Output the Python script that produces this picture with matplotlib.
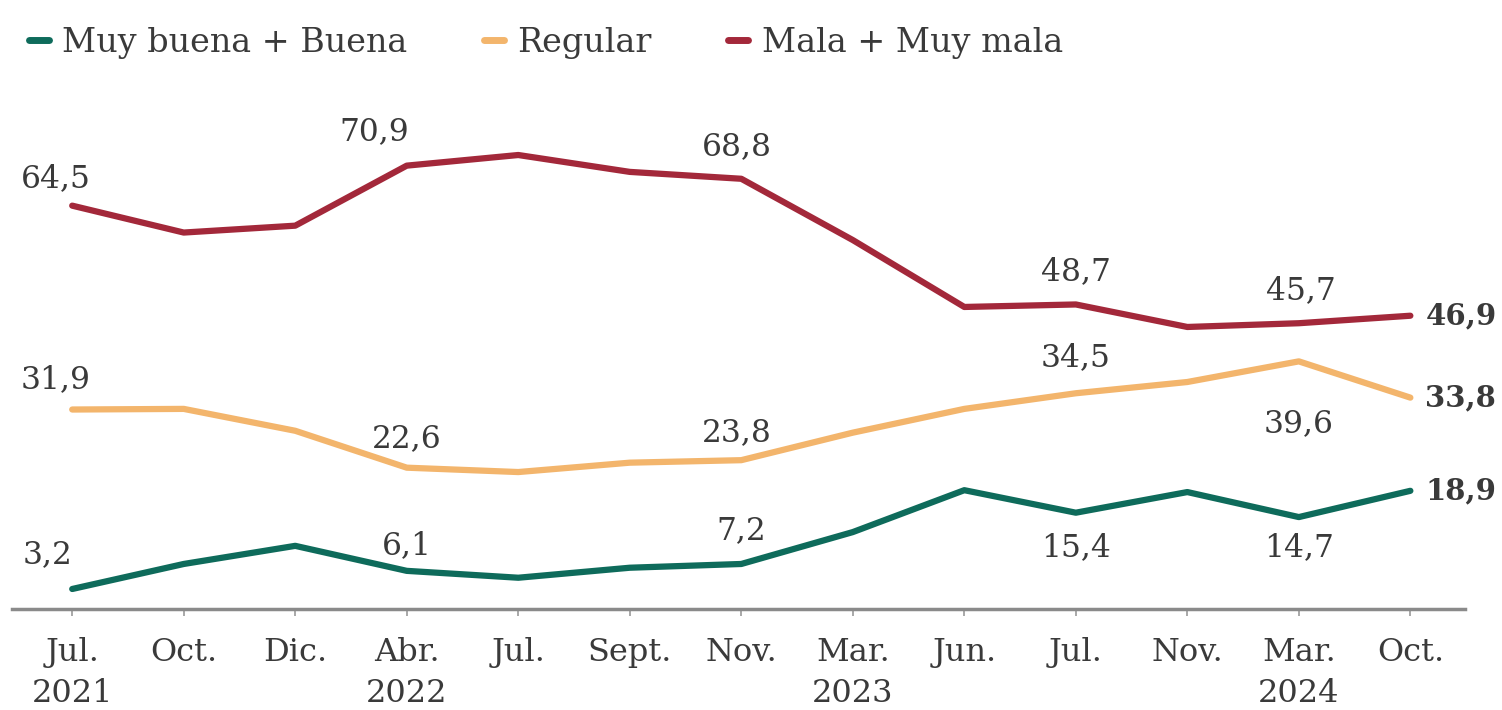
import matplotlib.pyplot as plt
from matplotlib.lines import Line2D

# Datos (porcentajes)
meses = ["Jul.\n2021", "Oct.", "Dic.", "Abr.\n2022", "Jul.", "Sept.", "Nov.",
         "Mar.\n2023", "Jun.", "Jul.", "Nov.", "Mar.\n2024", "Oct."]
buena = [3.2, 7.2, 10.1, 6.1, 5.0, 6.6, 7.2, 12.3, 19.0, 15.4, 18.7, 14.7, 18.9]
regular = [31.9, 32.0, 28.5, 22.6, 21.9, 23.4, 23.8, 28.2, 32.0, 34.5, 36.3, 39.6, 33.8]
mala = [64.5, 60.2, 61.3, 70.9, 72.6, 69.9, 68.8, 59.0, 48.3, 48.7, 45.1, 45.7, 46.9]

verde = '#0e6b5b'
naranja = '#f3b56c'
rojo = '#a3283a'
gris_texto = '#3a3a3a'

plt.rcParams['font.family'] = ['DejaVu Serif']

fig = plt.figure(figsize=(15.02, 7.10), dpi=100)
ax = fig.add_axes([12 / 1502, 101 / 710, (1465 - 12) / 1502, (609 - 140) / 710])

x = list(range(len(meses)))
for serie, c in ((mala, rojo), (regular, naranja), (buena, verde)):
    ax.plot(x, serie, color=c, lw=4.5, solid_capstyle='round', solid_joinstyle='round')

def fmt(v):
    return f"{v:.1f}".replace('.', ',')

# etiquetas: (indice, desplazamiento en pixeles)
etiquetas = [
    (mala, [(0, -16, 27), (3, -33, 34), (6, -4, 32), (9, 0, 33), (11, 2, 33)]),
    (regular, [(0, -17, 30), (3, 0, 29), (6, -4, 28), (9, 0, 36), (11, 0, -62)]),
    (buena, [(0, -25, 34), (3, 0, 25), (6, 0, 33), (9, 0, -35), (11, 0, -31)]),
]
for serie, lista in etiquetas:
    for i, dx, dy in lista:
        ax.annotate(fmt(serie[i]), (i, serie[i]), xytext=(dx, dy),
                    textcoords='offset pixels', ha='center', va='center',
                    fontsize=22.5, color=gris_texto, annotation_clip=False)
    # ultimo valor a la derecha, en negrita
    ax.annotate(fmt(serie[-1]), (x[-1], serie[-1]), xytext=(15, 0),
                textcoords='offset pixels', ha='left', va='center',
                fontsize=21, fontweight='bold', color=gris_texto,
                annotation_clip=False)

ax.set_xlim(-0.54, 12.49)
ax.set_ylim(0, 75)
ax.set_xticks(x)
ax.set_xticklabels(meses, fontsize=23, color=gris_texto, linespacing=1.42)
ax.set_yticks([])
for s in ['top', 'right', 'left']:
    ax.spines[s].set_visible(False)
ax.spines['bottom'].set_color('#8a8a8a')
ax.spines['bottom'].set_linewidth(2.5)
ax.tick_params(axis='x', length=5, width=1.2, color='#9a9a9a', pad=15)

handles = [Line2D([], [], color=c, lw=5, solid_capstyle='round') for c in (verde, naranja, rojo)]
fig.legend(handles, ["Muy buena + Buena", "Regular", "Mala + Muy mala"],
           loc='center left', bbox_to_anchor=(12 / 1502, 1 - 43 / 710), ncol=3,
           frameon=False, borderpad=0, fontsize=24, handlelength=0.6,
           handletextpad=0.4, columnspacing=2.3, labelcolor=gris_texto)

fig.savefig('out.png', dpi=100, facecolor='white')
